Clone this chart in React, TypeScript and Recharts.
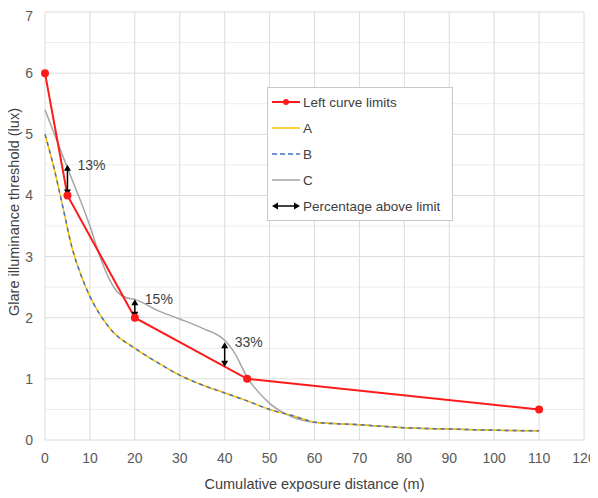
import { LineChart, Line, XAxis, YAxis, CartesianGrid, ReferenceLine, Label } from 'recharts';

// red limit curve
const limitX = [0, 5, 20, 45, 110];
const limitY = [6, 4, 2, 1, 0.5];

// A and B overlap
const abX = [0, 2, 4, 6, 8, 10, 12, 15, 20, 25, 30, 35, 40, 45, 50, 55, 58, 60, 70, 80, 90, 100, 110];
const abY = [5.0, 4.45, 3.8, 3.15, 2.7, 2.35, 2.08, 1.78, 1.5, 1.27, 1.06, 0.9, 0.77, 0.64, 0.5, 0.4, 0.33, 0.29, 0.25, 0.2, 0.18, 0.16, 0.15];

const cX = [0, 5, 10, 12, 14, 16, 18, 20, 25, 30, 35, 40, 42, 45, 50, 55, 60, 70, 80, 90, 100, 110];
const cY = [5.4, 4.45, 3.5, 3.05, 2.68, 2.43, 2.33, 2.3, 2.12, 1.98, 1.83, 1.63, 1.45, 1.03, 0.6, 0.38, 0.29, 0.25, 0.2, 0.18, 0.16, 0.15];

// percentage arrows
const arrowX = [5, 20, 40];
const arrowLow = [4, 2, 1.2];
const arrowHigh = [4.5, 2.3, 1.6];
const arrowLabels = ['13%', '15%', '33%'];

const xTicks = [0, 10, 20, 30, 40, 50, 60, 70, 80, 90, 100, 110, 120];
const yTicks = [0, 1, 2, 3, 4, 5, 6, 7];
const yMinor = [0.5, 1.5, 2.5, 3.5, 4.5, 5.5, 6.5];

const limitData = limitX.map((x, i) => ({ x, y: limitY[i] }));
const abData = abX.map((x, i) => ({ x, y: abY[i] }));
const cData = cX.map((x, i) => ({ x, y: cY[i] }));

const FONT = '"Liberation Sans", Arial, sans-serif';
const RED = '#ff1a1a';
const YELLOW = '#ffc000';
const BLUE = '#4472c4';
const GRAY = '#a5a5a5';

const Arrow = (props: any) => {
  const { x1, y1, y2, text } = props;
  const top = Math.min(y1, y2);
  const bot = Math.max(y1, y2);
  const h = 4;
  return (
    <g>
      <line x1={x1} y1={top + 2} x2={x1} y2={bot - 2} stroke="#000" strokeWidth={1.5} />
      <polygon points={`${x1},${top} ${x1 - 3.5},${top + h + 2} ${x1 + 3.5},${top + h + 2}`} fill="#000" />
      <polygon points={`${x1},${bot} ${x1 - 3.5},${bot - h - 2} ${x1 + 3.5},${bot - h - 2}`} fill="#000" />
      <text x={x1 + 10} y={top + 1} dominantBaseline="middle" fontSize={14} fontFamily={FONT} fill="#404040">
        {text}
      </text>
    </g>
  );
};

const YTitle = () => (
  <text
    transform="rotate(-90, 6, 204)"
    x={6}
    y={204}
    textAnchor="middle"
    dominantBaseline="central"
    fontSize={14.5}
    fontFamily={FONT}
    fill="#404040"
  >
    Glare illuminance threshold (lux)
  </text>
);

const LegendBox = () => {
  const row = (icon: any, label: string) => (
    <div style={{ display: 'flex', alignItems: 'center', height: 26 }}>
      <svg width={29} height={12} style={{ marginRight: 2 }}>{icon}</svg>
      <span>{label}</span>
    </div>
  );
  return (
    <div
      style={{
        position: 'absolute',
        left: 259,
        top: 79,
        border: '1px solid #c8c8c8',
        background: '#fff',
        width: 180,
        padding: '1px 0 1px 4px',
        fontFamily: FONT,
        fontSize: 13.5,
        color: '#404040',
      }}
    >
      {row(<><line x1={0} y1={6} x2={28} y2={6} stroke={RED} strokeWidth={2} /><circle cx={14} cy={6} r={3} fill={RED} /></>, 'Left curve limits')}
      {row(<line x1={0} y1={6} x2={28} y2={6} stroke={YELLOW} strokeWidth={1.5} />, 'A')}
      {row(<line x1={0} y1={6} x2={28} y2={6} stroke={BLUE} strokeWidth={1.5} strokeDasharray="5 3" />, 'B')}
      {row(<line x1={0} y1={6} x2={28} y2={6} stroke={GRAY} strokeWidth={1.5} />, 'C')}
      {row(
        <>
          <line x1={3} y1={6} x2={25} y2={6} stroke="#000" strokeWidth={1.5} />
          <polygon points="0,6 6,2.5 6,9.5" fill="#000" />
          <polygon points="28,6 22,2.5 22,9.5" fill="#000" />
        </>,
        'Percentage above limit'
      )}
    </div>
  );
};

export default function App() {
  return (
    <div style={{ position: 'relative', width: 590, height: 490, background: '#fff' }}>
      <LineChart width={590} height={490} margin={{ top: 4, right: 14, left: 0, bottom: 0 }}>
        <CartesianGrid stroke="#ececec" horizontalValues={yMinor} vertical={false} />
        <CartesianGrid stroke="#dcdcdc" horizontalValues={yTicks} verticalValues={xTicks} />
        <XAxis
          type="number"
          dataKey="x"
          domain={[0, 120]}
          ticks={xTicks}
          axisLine={false}
          tickLine={false}
          tickSize={0}
          tickMargin={13}
          height={58}
          tick={{ fontSize: 14, fill: '#595959', fontFamily: FONT }}
        >
          <Label value="Cumulative exposure distance (m)" position="insideBottom" offset={9} style={{ fontSize: 14.5, fill: '#404040', fontFamily: FONT }} />
        </XAxis>
        <YAxis
          type="number"
          domain={[0, 7]}
          ticks={yTicks}
          axisLine={false}
          tickLine={false}
          tickSize={0}
          tickMargin={12}
          width={37}
          tick={{ fontSize: 14, fill: '#595959', fontFamily: FONT }}
        >
          <Label content={() => <YTitle />} />
        </YAxis>
        <Line data={cData} dataKey="y" type="monotone" stroke={GRAY} strokeWidth={1.5} dot={false} isAnimationActive={false} />
        <Line data={abData} dataKey="y" type="monotone" stroke={YELLOW} strokeWidth={1.5} dot={false} isAnimationActive={false} />
        <Line data={abData} dataKey="y" type="monotone" stroke={BLUE} strokeWidth={1.5} strokeDasharray="4 4" dot={false} isAnimationActive={false} />
        <Line data={limitData} dataKey="y" type="linear" stroke={RED} strokeWidth={2} dot={{ r: 3, fill: RED, stroke: RED }} isAnimationActive={false} />
        {arrowX.map((x, i) => (
          <ReferenceLine
            key={i}
            segment={[{ x, y: arrowLow[i] }, { x, y: arrowHigh[i] }]}
            shape={(p: any) => <Arrow {...p} text={arrowLabels[i]} />}
          />
        ))}
      </LineChart>
      <LegendBox />
    </div>
  );
}
